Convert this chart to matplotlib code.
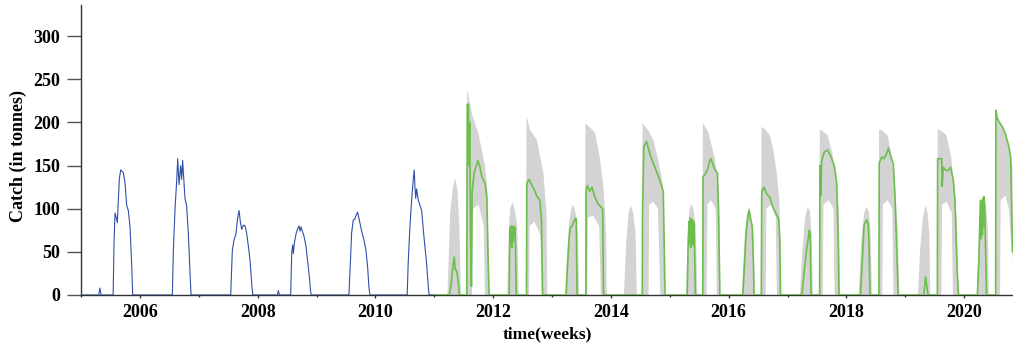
import numpy as np
import matplotlib
matplotlib.use("Agg")
import matplotlib.pyplot as plt
from matplotlib.ticker import MultipleLocator

plt.rcParams['font.family'] = ['Liberation Serif', 'DejaVu Serif']
plt.rcParams['font.weight'] = 'bold'

# 历史渔获（蓝线），时间单位为年，数值单位为吨
blue_t = [2005.000, 2005.300, 2005.320, 2005.340,
          2005.545, 2005.560, 2005.577, 2005.597, 2005.617, 2005.634, 2005.651, 2005.674, 2005.700,
          2005.718, 2005.747, 2005.775, 2005.803, 2005.832, 2005.860, 2005.877,
          2006.551, 2006.568, 2006.596, 2006.625, 2006.642, 2006.664, 2006.692, 2006.709, 2006.726,
          2006.749, 2006.766, 2006.794, 2006.822, 2006.851, 2006.868,
          2007.542, 2007.570, 2007.599, 2007.632, 2007.655, 2007.684, 2007.707, 2007.730, 2007.758,
          2007.787, 2007.815, 2007.843, 2007.871, 2007.900, 2007.917,
          2008.335, 2008.351, 2008.370,
          2008.561, 2008.578, 2008.595, 2008.606, 2008.623, 2008.652, 2008.680, 2008.703, 2008.720,
          2008.737, 2008.759, 2008.788, 2008.822, 2008.844, 2008.878, 2008.901, 2008.912,
          2009.550, 2009.567, 2009.596, 2009.624, 2009.652, 2009.669, 2009.698, 2009.726, 2009.766,
          2009.805, 2009.839, 2009.868, 2009.890, 2009.907,
          2010.540, 2010.557, 2010.586, 2010.615, 2010.642, 2010.659, 2010.672, 2010.685, 2010.700,
          2010.728, 2010.785, 2010.824, 2010.869, 2010.900, 2010.913,
          2011.000]
blue_v = [0, 0, 8, 0,
          0, 60, 95, 90, 84, 110, 135, 145, 143,
          142, 130, 104, 98, 79, 36, 0,
          0, 52, 99, 133, 158, 128, 150, 134, 156,
          130, 112, 103, 72, 26, 0,
          0, 52, 64, 71, 87, 98, 84, 76, 81,
          80, 71, 56, 40, 12, 0,
          0, 5, 0,
          0, 48, 58, 48, 60, 71, 77, 80, 74,
          79, 74, 68, 56, 42, 21, 3, 0,
          0, 25, 72, 87, 88, 92, 96, 87, 74,
          64, 52, 32, 9, 0,
          0, 37, 79, 110, 133, 145, 125, 112, 123,
          110, 98, 68, 37, 8, 0,
          0]

# 预测渔获（绿线）
green_t = [2011.000,
           2011.258, 2011.282, 2011.316, 2011.338, 2011.355, 2011.384, 2011.406, 2011.428,
           2011.553, 2011.560, 2011.580, 2011.593, 2011.600, 2011.618, 2011.631, 2011.643, 2011.677,
           2011.740, 2011.770, 2011.808, 2011.864, 2011.893, 2011.915, 2011.932,
           2012.272, 2012.280, 2012.290, 2012.300, 2012.310, 2012.320, 2012.330, 2012.340, 2012.350,
           2012.360, 2012.372, 2012.383, 2012.392,
           2012.566, 2012.572, 2012.611, 2012.650, 2012.700, 2012.737, 2012.793, 2012.822, 2012.839,
           2013.240, 2013.260, 2013.290, 2013.310, 2013.340, 2013.370, 2013.400, 2013.412, 2013.425,
           2013.575, 2013.580, 2013.600, 2013.640, 2013.680, 2013.720, 2013.780, 2013.830, 2013.860,
           2013.875,
           2014.533, 2014.537, 2014.559, 2014.604, 2014.660, 2014.718, 2014.803, 2014.860, 2014.890,
           2014.905, 2014.920,
           2015.295, 2015.310, 2015.325, 2015.335, 2015.345, 2015.355, 2015.365, 2015.375, 2015.385,
           2015.395, 2015.405, 2015.415, 2015.425, 2015.435,
           2015.560, 2015.566, 2015.600, 2015.640, 2015.680, 2015.700, 2015.740, 2015.770, 2015.810,
           2015.830, 2015.850,
           2016.240, 2016.265, 2016.300, 2016.330, 2016.346, 2016.370, 2016.400, 2016.420, 2016.432,
           2016.555, 2016.562, 2016.600, 2016.640, 2016.700, 2016.750, 2016.800, 2016.850, 2016.870,
           2016.880,
           2017.245, 2017.280, 2017.320, 2017.350, 2017.370, 2017.385, 2017.400,
           2017.545, 2017.552, 2017.565, 2017.580, 2017.626, 2017.682, 2017.740, 2017.796, 2017.835,
           2017.860, 2017.875,
           2018.240, 2018.270, 2018.300, 2018.325, 2018.345, 2018.370, 2018.385, 2018.400,
           2018.553, 2018.558, 2018.600, 2018.640, 2018.684, 2018.712, 2018.750, 2018.797, 2018.825,
           2018.860, 2018.880,
           2019.315, 2019.346, 2019.385,
           2019.545, 2019.550, 2019.618, 2019.628, 2019.645, 2019.680, 2019.720, 2019.770, 2019.816,
           2019.844, 2019.880, 2019.905,
           2020.225, 2020.250, 2020.268, 2020.280, 2020.290, 2020.300, 2020.310, 2020.320, 2020.330,
           2020.336, 2020.350, 2020.365, 2020.380,
           2020.535, 2020.540, 2020.560, 2020.600, 2020.650, 2020.700, 2020.760, 2020.790, 2020.805,
           2020.822]
green_v = [0,
           0, 10, 33, 44, 30, 27, 16, 0,
           0, 221, 221, 150, 200, 60, 10, 120, 141,
           156, 150, 137, 129, 113, 40, 0,
           0, 50, 78, 60, 80, 55, 79, 62, 80,
           70, 78, 40, 0,
           0, 130, 134, 128, 122, 115, 110, 85, 0,
           0, 30, 65, 78, 80, 85, 89, 88, 0,
           0, 122, 127, 120, 125, 115, 106, 102, 100,
           0,
           0, 95, 172, 178, 164, 153, 138, 127, 120,
           60, 0,
           0, 50, 85, 60, 89, 55, 88, 60, 87,
           58, 85, 70, 40, 0,
           0, 137, 140, 145, 156, 158, 150, 145, 141,
           90, 0,
           0, 30, 75, 92, 98, 88, 80, 40, 0,
           0, 120, 125, 118, 113, 102, 95, 88, 60,
           0,
           0, 25, 50, 65, 75, 70, 0,
           0, 150, 115, 155, 166, 168, 160, 149, 130,
           70, 0,
           0, 40, 80, 85, 87, 82, 60, 0,
           0, 153, 160, 158, 164, 170, 162, 152, 115,
           40, 0,
           0, 21, 0,
           0, 158, 158, 126, 148, 145, 144, 148, 133,
           110, 30, 0,
           0, 40, 90, 110, 65, 108, 70, 112, 80,
           114, 100, 50, 0,
           0, 214, 205, 200, 195, 187, 172, 160, 110,
           50]

# 置信区间上界（灰色带）
band_hi_t = [2011.000,
             2011.224, 2011.270, 2011.316, 2011.355, 2011.394, 2011.428, 2011.452,
             2011.542, 2011.559, 2011.570, 2011.638, 2011.750, 2011.864, 2011.903, 2011.932,
             2012.240, 2012.262, 2012.290, 2012.330, 2012.370, 2012.410, 2012.432,
             2012.560, 2012.566, 2012.628, 2012.742, 2012.854, 2012.905, 2012.920,
             2013.220, 2013.250, 2013.290, 2013.330, 2013.355, 2013.400, 2013.440, 2013.460,
             2013.560, 2013.566, 2013.647, 2013.732, 2013.817, 2013.880, 2013.920, 2013.930,
             2014.220, 2014.260, 2014.300, 2014.340, 2014.380, 2014.420, 2014.440,
             2014.530, 2014.537, 2014.633, 2014.718, 2014.803, 2014.877, 2014.905, 2014.915,
             2015.280, 2015.300, 2015.330, 2015.360, 2015.400, 2015.440, 2015.470,
             2015.555, 2015.562, 2015.600, 2015.650, 2015.700, 2015.760, 2015.810, 2015.840, 2015.862,
             2016.225, 2016.260, 2016.300, 2016.346, 2016.380, 2016.420, 2016.445,
             2016.550, 2016.558, 2016.620, 2016.700, 2016.760, 2016.820, 2016.860, 2016.880, 2016.895,
             2017.210, 2017.250, 2017.300, 2017.340, 2017.380, 2017.410, 2017.432,
             2017.540, 2017.548, 2017.600, 2017.680, 2017.760, 2017.820, 2017.870, 2017.892,
             2018.209, 2018.250, 2018.300, 2018.340, 2018.380, 2018.410, 2018.435,
             2018.550, 2018.556, 2018.620, 2018.700, 2018.760, 2018.820, 2018.870, 2018.900,
             2019.215, 2019.250, 2019.300, 2019.346, 2019.380, 2019.410, 2019.425,
             2019.543, 2019.550, 2019.620, 2019.700, 2019.780, 2019.840, 2019.880, 2019.900,
             2020.215, 2020.250, 2020.290, 2020.336, 2020.370, 2020.400, 2020.420,
             2020.535, 2020.540, 2020.600, 2020.660, 2020.720, 2020.780, 2020.822]
band_hi = [0,
           0, 95, 125, 135, 122, 75, 0,
           0, 236, 236, 210, 187, 149, 120, 0,
           0, 70, 100, 108, 98, 80, 0,
           0, 207, 191, 180, 141, 95, 0,
           0, 40, 85, 100, 105, 95, 70, 0,
           0, 199, 194, 188, 157, 120, 70, 0,
           0, 60, 95, 104, 95, 70, 0,
           0, 199, 191, 180, 157, 130, 90, 0,
           0, 60, 95, 106, 100, 80, 0,
           0, 199, 195, 190, 176, 160, 140, 110, 0,
           0, 55, 90, 102, 95, 75, 0,
           0, 195, 192, 185, 168, 140, 110, 70, 0,
           0, 50, 90, 102, 98, 70, 0,
           0, 192, 190, 185, 165, 134, 100, 0,
           0, 60, 95, 102, 98, 75, 0,
           0, 192, 190, 185, 165, 130, 80, 0,
           0, 50, 90, 104, 95, 70, 0,
           0, 192, 190, 185, 160, 120, 80, 0,
           0, 60, 105, 116, 105, 80, 0,
           0, 215, 200, 192, 180, 165, 150]

# 置信区间下界
band_lo_t = [2011.000,
             2011.640, 2011.660, 2011.750, 2011.840, 2011.860,
             2012.610, 2012.620, 2012.700, 2012.800, 2012.830,
             2013.600, 2013.610, 2013.700, 2013.800, 2013.830,
             2014.640, 2014.650, 2014.720, 2014.800, 2014.840,
             2015.625, 2015.640, 2015.700, 2015.780, 2015.800,
             2016.630, 2016.640, 2016.720, 2016.800, 2016.820,
             2017.600, 2017.610, 2017.700, 2017.780, 2017.800,
             2018.610, 2018.620, 2018.700, 2018.780, 2018.800,
             2019.615, 2019.625, 2019.700, 2019.790, 2019.810,
             2020.610, 2020.620, 2020.700, 2020.760, 2020.800, 2020.822]
band_lo = [0,
           0, 100, 105, 80, 0,
           0, 80, 85, 70, 0,
           0, 90, 92, 80, 0,
           0, 105, 108, 100, 0,
           0, 105, 110, 100, 0,
           0, 100, 105, 90, 0,
           0, 105, 110, 100, 0,
           0, 105, 110, 100, 0,
           0, 105, 108, 95, 0,
           0, 110, 115, 100, 60, 40]

fig = plt.figure(figsize=(10.13, 3.43), dpi=100)
ax = fig.add_axes([0.080, 0.140, 0.920, 0.845])

# 灰色带：上界顺着走，下界倒着回来，拼成一个多边形
poly_t = np.concatenate([band_hi_t, band_lo_t[::-1]])
poly_v = np.concatenate([band_hi, band_lo[::-1]])
ax.fill(poly_t, poly_v, color='#d3d3d3', lw=0, zorder=1)

ax.plot(blue_t, blue_v, color='#3050a8', lw=0.8, zorder=3)
ax.plot(green_t, green_v, color='#6cbf4a', lw=1.2, zorder=3)

ax.set_xlim(2005.0, 2020.83)
ax.set_ylim(0, 336)
ax.xaxis.set_major_locator(MultipleLocator(2))
ax.xaxis.set_minor_locator(MultipleLocator(1))
ax.yaxis.set_major_locator(MultipleLocator(50))

for s in ['top', 'right']:
    ax.spines[s].set_visible(False)
for s in ['left', 'bottom']:
    ax.spines[s].set_color('#333333')
    ax.spines[s].set_linewidth(1.0)

ax.tick_params(axis='y', which='major', length=10, width=1, color='#555555',
               labelsize=13, pad=5)
ax.tick_params(axis='x', which='major', length=2.5, width=1, color='#333333',
               labelsize=13, pad=4)
ax.tick_params(axis='x', which='minor', length=1.5, width=1, color='#333333')
for lab in ax.get_xticklabels() + ax.get_yticklabels():
    lab.set_fontweight('bold')

ax.set_xlabel('time(weeks)', fontsize=12.5, fontweight='bold', labelpad=4)
ax.set_ylabel('Catch (in tonnes)', fontsize=13, fontweight='bold')
ax.yaxis.set_label_coords(-0.058, 0.479)

fig.savefig('out.png', dpi=100)
